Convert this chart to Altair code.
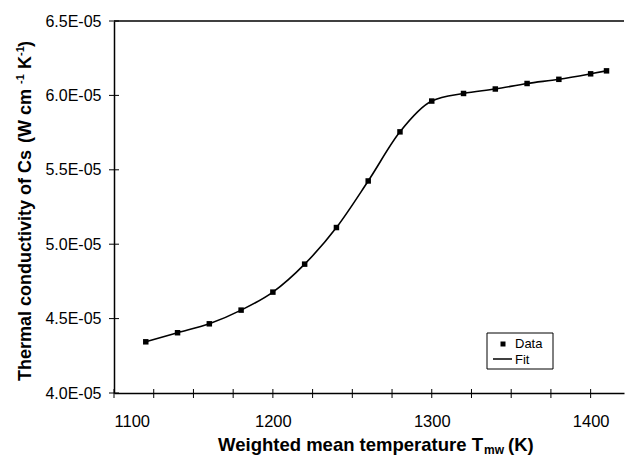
import altair as alt
import pandas as pd

# Measured points: weighted mean temperature (K) and thermal conductivity (units of 1E-05 W cm^-1 K^-1)
temperature_k = [1120, 1140, 1160, 1180, 1200, 1220, 1240, 1260,
                 1280, 1300, 1320, 1340, 1360, 1380, 1400, 1410]
conductivity_e5 = [4.344, 4.405, 4.465, 4.557, 4.678, 4.866, 5.112, 5.425,
                   5.755, 5.962, 6.013, 6.043, 6.080, 6.108, 6.145, 6.165]

# Axis ticks and labels
x_tick_values = [1100, 1125, 1150, 1175, 1200, 1225, 1250, 1275,
                 1300, 1325, 1350, 1375, 1400]
x_label_values = [1100, 1200, 1300, 1400]
y_tick_values_e5 = [4.0, 4.5, 5.0, 5.5, 6.0, 6.5]
legend_labels = ["Data", "Fit"]

W, H = 510, 372
FONT = "Liberation Sans"

df = pd.DataFrame({"T": temperature_k, "k": [v / 1e5 for v in conductivity_e5]})
one = pd.DataFrame({"a": [0]})
y_ticks_si = [v / 1e5 for v in y_tick_values_e5]

x_scale = alt.Scale(domain=[1100, 1421], nice=False, zero=False)
y_scale = alt.Scale(domain=[4.0 / 1e5, 6.5 / 1e5 * 1.000001], nice=False, zero=False)

x_axis = alt.Axis(
    values=x_label_values, format="d", title=None, ticks=False, grid=False,
    domainColor="black", domainWidth=1.5, labelFont=FONT, labelFontSize=16.5,
    labelColor="black", labelPadding=20,
)
y_axis = alt.Axis(
    values=y_ticks_si,
    labelExpr="format(datum.value * 1e5, '.1f') + 'E-05'",
    title=None, ticks=False, grid=False, domainColor="black", domainWidth=1.5,
    labelFont=FONT, labelFontSize=16, labelColor="black", labelPadding=13,
    labelOverlap=False, labelFlush=False, labelBound=False,
)

fit = alt.Chart(df).mark_line(color="black", strokeWidth=1.6, interpolate="monotone").encode(
    x=alt.X("T:Q", scale=x_scale, axis=x_axis),
    y=alt.Y("k:Q", scale=y_scale, axis=y_axis),
)
points = alt.Chart(df).mark_square(color="black", size=30, opacity=1).encode(
    x="T:Q", y="k:Q"
)

# Ticks crossing both axes
x_ticks = alt.Chart(pd.DataFrame({"T": x_tick_values})).mark_rule(
    color="black", strokeWidth=1
).encode(x="T:Q", y=alt.value(H - 4), y2=alt.value(H + 5))
y_ticks = alt.Chart(pd.DataFrame({"k": y_ticks_si})).mark_rule(
    color="black", strokeWidth=1
).encode(y="k:Q", x=alt.value(-5), x2=alt.value(5))

# Frame line along the top of the plot
top_line = alt.Chart(one).mark_rule(color="black", strokeWidth=1.5).encode(
    x=alt.value(0), x2=alt.value(W), y=alt.value(0)
)


def label(text, x, y, size, weight="bold", angle=0, align="left", baseline="alphabetic"):
    kw = dict(font=FONT, fontSize=size, fontWeight=weight, color="black",
              align=align, baseline=baseline)
    if angle:
        kw["angle"] = angle
    return alt.Chart(one).mark_text(**kw).encode(
        x=alt.value(x), y=alt.value(y), text=alt.value(text)
    )


# X axis title with subscript
x_title = [
    label("Weighted mean temperature T", 369, 430, 18.5, align="right"),
    label("mw", 370, 433, 12),
    label("(K)", 394, 430, 18.5),
]

# Y axis title (rotated) with superscripts
y_title = [
    label("Thermal conductivity of Cs", -83, 360, 18, angle=270),
    label("(W cm", -83, 122, 18, angle=270),
    label("-1", -90, 63, 11, angle=270),
    label("K", -83, 48, 18, angle=270),
    label("-1", -90, 35, 11, angle=270),
    label(")", -83, 26, 18, angle=270),
]

# Legend box
legend_box = alt.Chart(one).mark_rect(fill="white", stroke="black", strokeWidth=1).encode(
    x=alt.value(373), x2=alt.value(439), y=alt.value(312), y2=alt.value(348)
)
legend_square = alt.Chart(one).mark_square(color="black", size=25, opacity=1).encode(
    x=alt.value(389), y=alt.value(323)
)
legend_line = alt.Chart(one).mark_rule(color="black", strokeWidth=1.5).encode(
    x=alt.value(379), x2=alt.value(398), y=alt.value(338)
)
legend_text = [
    label(legend_labels[0], 401, 323, 13, weight="normal", baseline="middle"),
    label(legend_labels[1], 401, 339, 13, weight="normal", baseline="middle"),
]

chart = alt.layer(
    fit, points, x_ticks, y_ticks, top_line,
    legend_box, legend_square, legend_line, *legend_text,
    *x_title, *y_title,
).properties(
    width=W, height=H,
    autosize=alt.AutoSizeParams(type="none"),
    padding={"left": 114, "top": 21, "right": 628 - 114 - W, "bottom": 456 - 21 - H},
    background="white",
).configure_view(stroke=None)

chart.save("out.html", embed_options={"renderer": "svg", "actions": False})
